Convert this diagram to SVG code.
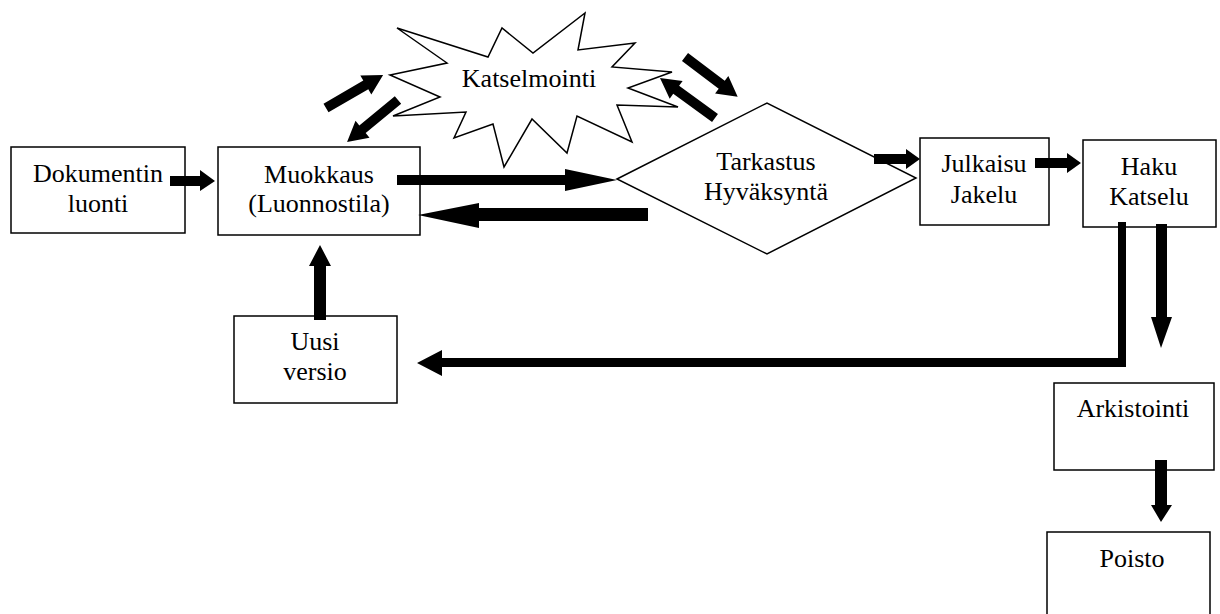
<svg xmlns="http://www.w3.org/2000/svg" width="1220" height="614" viewBox="0 0 1220 614">
<style>
.box{fill:#fff;stroke:#000;stroke-width:1.5}
.t{font-family:"Liberation Serif","Times New Roman",serif;font-size:26px;fill:#000;text-anchor:middle}
.a{fill:#000;stroke:none}
</style>
<rect width="1220" height="614" fill="#fff"/>
<g id="katselmointi">
<polygon class="box" points="397,28 488,57 502,28 533,53 585,13 578,50 635,43 612,67 672,72 628,88 678,107 617,105 632,142 577,116 567,153 532,119 504,167 493,124 454,138 466,112 393,116 440,97 390,75 447,63"/>
<text class="t" x="529" y="87">Katselmointi</text>
</g>
<g id="tarkastus">
<polygon class="box" points="617,179 767,103 916,178 767,254"/>
<text class="t" x="766" y="170">Tarkastus</text>
<text class="t" x="766" y="200">Hyväksyntä</text>
</g>
<g id="dokumentin">
<rect class="box" x="11" y="147" width="174" height="86"/>
<text class="t" x="98" y="182">Dokumentin</text>
<text class="t" x="98" y="212">luonti</text>
</g>
<g id="muokkaus">
<rect class="box" x="218" y="147" width="202" height="88"/>
<text class="t" x="319" y="183">Muokkaus</text>
<text class="t" x="319" y="212">(Luonnostila)</text>
</g>
<g id="uusi">
<rect class="box" x="234" y="316" width="163" height="87"/>
<text class="t" x="315" y="350">Uusi</text>
<text class="t" x="315" y="380">versio</text>
</g>
<g id="julkaisu">
<rect class="box" x="920" y="138" width="129" height="87"/>
<text class="t" x="984" y="172">Julkaisu</text>
<text class="t" x="984" y="203">Jakelu</text>
</g>
<g id="haku">
<rect class="box" x="1083" y="140" width="133" height="87"/>
<text class="t" x="1149" y="175">Haku</text>
<text class="t" x="1149" y="205">Katselu</text>
</g>
<g id="arkistointi">
<rect class="box" x="1054" y="383" width="160" height="87"/>
<text class="t" x="1133" y="417">Arkistointi</text>
</g>
<g id="poisto">
<rect class="box" x="1047" y="532" width="163" height="90"/>
<text class="t" x="1132" y="567">Poisto</text>
</g>
<g id="connectors">
<!-- Dok -> Muokkaus -->
<polygon class="a" points="170,176 200,176 200,170 215,181 200,191 200,186 170,186"/>
<!-- Muokkaus -> Tarkastus -->
<polygon class="a" points="397,175 565,175 565,169 617,180 565,191 565,185 397,185"/>
<!-- Tarkastus -> Muokkaus -->
<polygon class="a" points="648,208 479,208 479,203 418,215 479,228 479,221 648,221"/>
<!-- Tarkastus -> Julkaisu -->
<polygon class="a" points="874,154 906,154 906,149 920,159 906,169 906,164 874,164"/>
<!-- Julkaisu -> Haku -->
<polygon class="a" points="1035,158 1067,158 1067,153 1081,163 1067,173 1067,168 1035,168"/>
<!-- Haku -> Arkistointi -->
<polygon class="a" points="1156,224 1167,224 1167,317 1172,317 1161,348 1151,317 1156,317"/>
<!-- Haku -> Uusi versio -->
<polygon class="a" points="1118,222 1126,222 1126,367 442,367 442,376 417,363 442,350 442,358 1118,358"/>
<!-- Uusi versio -> Muokkaus -->
<polygon class="a" points="314,320 326,320 326,266 331,266 320,245 309,266 314,266"/>
<!-- Arkistointi -> Poisto -->
<polygon class="a" points="1155,460 1167,460 1167,505 1172,505 1161,522 1151,505 1155,505"/>
<!-- Muokkaus <-> Katselmointi -->
<polygon class="a" transform="translate(326,108) rotate(-30.07)" points="0,-5 46,-5 46,-11 66,0 46,11 46,5 0,5"/>
<polygon class="a" transform="translate(398,100) rotate(140.5)" points="0,-5 46,-5 46,-11 66,0 46,11 46,5 0,5"/>
<!-- Katselmointi <-> Tarkastus -->
<polygon class="a" transform="translate(685,57) rotate(37.04)" points="0,-5 46,-5 46,-11 66,0 46,11 46,5 0,5"/>
<polygon class="a" transform="translate(715,118) rotate(216)" points="0,-5 48,-5 48,-11 68,0 48,11 48,5 0,5"/>
</g>
</svg>
